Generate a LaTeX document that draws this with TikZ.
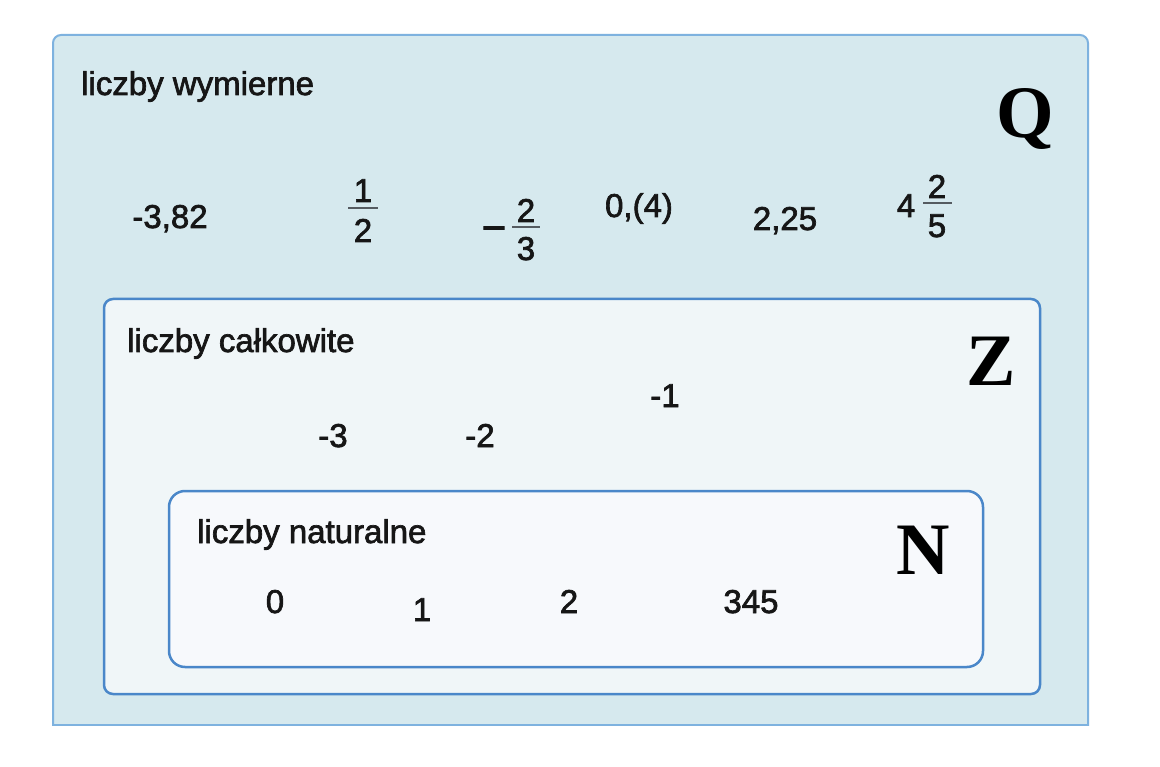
\documentclass[tikz,border=0pt]{standalone}
\usepackage{fontspec}
\setmainfont{Liberation Sans}[FakeBold=2]
\newfontfamily\setsymfont{Liberation Serif}
\definecolor{outerfill}{HTML}{D6E9EE}
\definecolor{outerdraw}{HTML}{7EB2DF}
\definecolor{zfill}{HTML}{F0F6F8}
\definecolor{nfill}{HTML}{F7F9FC}
\definecolor{innerdraw}{HTML}{4A87C9}
\definecolor{txt}{HTML}{161616}
\definecolor{fracgray}{HTML}{555B60}
\begin{document}
\begin{tikzpicture}[x=1pt,y=-1pt,
  lbl/.style={font=\fontsize{33}{33}\selectfont, text=txt, inner sep=0pt, anchor=base west},
  num/.style={font=\fontsize{33}{33}\selectfont, text=txt, inner sep=0pt, anchor=base},
  setsym/.style={font=\setsymfont\bfseries\fontsize{74}{74}\selectfont, text=black, inner sep=0pt, anchor=base},
  fracline/.style={draw=fracgray, line width=2pt},
  setbox/.style={draw=innerdraw, line width=2.5pt}]
\useasboundingbox (0,0) rectangle (1160,767);
\fill[white] (0,0) rectangle (1160,767);
% outer box Q: rounded top, square bottom
\begin{scope}
  \clip (40,20) rectangle (1100,725);
  \draw[fill=outerfill, draw=outerdraw, line width=2pt, rounded corners=8pt] (53,35) rectangle (1088,760);
\end{scope}
\draw[draw=outerdraw, line width=2.5pt] (53,725) -- (1088,725);
% Z box
\draw[setbox, fill=zfill, rounded corners=9pt] (104,299) rectangle (1040,694);
% N box
\draw[setbox, fill=nfill, rounded corners=16pt] (169,491) rectangle (983,667);

% labels
\node[lbl] (lq) at (81,95) {liczby wymierne};
\node[lbl] (lz) at (127,352) {liczby całkowite};
\node[lbl] (ln) at (197,543) {liczby naturalne};

% set symbols
\node[setsym] (Q) at (1025,138) {Q};
\node[setsym] (Z) at (991,385) {Z};
\node[setsym] (N) at (923,574) {N};

% rational numbers
\node[num] (q1) at (170,228) {-3,82};
\node[num] (q2n) at (363,202) {1};
\node[num] (q2d) at (363,242) {2};
\draw[fracline] (348,208) -- (378,208);
\node[num, font=\fontsize{42}{42}\selectfont] (q3m) at (494,242) {−};
\node[num] (q3n) at (526,222) {2};
\node[num] (q3d) at (526,260) {3};
\draw[fracline] (512,227) -- (540,227);
\node[num] (q4) at (639,217) {0,(4)};
\node[num] (q5) at (785,230) {2,25};
\node[num] (q6) at (906,217) {4};
\node[num] (q6n) at (937,198) {2};
\node[num] (q6d) at (937,237) {5};
\draw[fracline] (923,203) -- (952,203);

% integers
\node[num] (z1) at (665,407) {-1};
\node[num] (z2) at (333,447) {-3};
\node[num] (z3) at (480,447) {-2};

% naturals
\node[num] (n0) at (275,613) {0};
\node[num] (n1) at (422,621) {1};
\node[num] (n2) at (569,613) {2};
\node[num] (n3) at (751,613) {345};
\end{tikzpicture}
\end{document}
